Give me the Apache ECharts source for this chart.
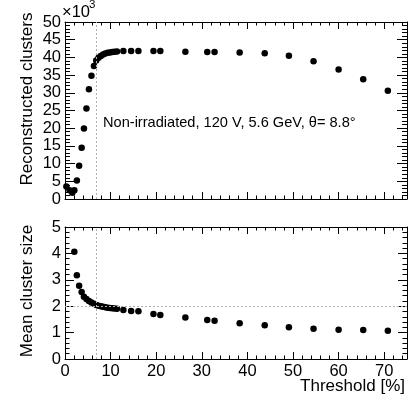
<!DOCTYPE html>
<html>
<head>
<meta charset="utf-8">
<script src="https://cdn.jsdelivr.net/npm/echarts@6/dist/echarts.min.js"></script>
<style>
  html, body { margin: 0; padding: 0; background: #fff; }
  #chart { width: 415px; height: 399px; }
</style>
</head>
<body>
<div id="chart"></div>
<script>
// threshold in %, shared by both pads
const threshold = [0.3, 1.0, 1.6, 2.05, 2.6, 3.1, 3.65, 4.15, 4.7, 5.25, 5.8, 6.35, 6.85,
    7.35, 7.85, 8.35, 8.85, 9.35, 9.85, 10.35, 10.85, 11.4, 12.8, 14.5, 16.1, 19.4, 20.9,
    26.4, 31.2, 32.8, 38.3, 43.8, 49.1, 54.5, 60.0, 65.4, 70.8];
// reconstructed clusters, in units of 10^3
const clusters = [3.5, 2.5, 1.8, 2.5, 5.2, 9.4, 14.5, 19.9, 25.6, 31.0, 34.8, 37.6, 39.1,
    39.9, 40.4, 40.8, 41.1, 41.3, 41.4, 41.5, 41.6, 41.7, 41.8, 41.8, 41.8, 41.8, 41.8,
    41.6, 41.5, 41.5, 41.4, 41.2, 40.5, 38.9, 36.6, 33.8, 30.6];
// mean cluster size (first points are off scale)
const clusterSize = [null, null, null, 4.06, 3.17, 2.77, 2.54, 2.36, 2.27, 2.2, 2.14, 2.09, 2.05,
    2.02, 2.0, 1.98, 1.96, 1.94, 1.93, 1.92, 1.91, 1.9, 1.86, 1.82, 1.81, 1.70, 1.67,
    1.57, 1.48, 1.45, 1.35, 1.28, 1.20, 1.15, 1.11, 1.10, 1.07];
const workingPoint = 6.85;
const refSize = 2;
const annotation = 'Non-irradiated, 120 V, 5.6 GeV, \u03b8= 8.8\u00b0';

const font = 'Liberation Sans, Arial, Helvetica, sans-serif';
let chartDom = document.getElementById('chart');
let myChart = echarts.init(chartDom, null, {renderer: 'canvas'});

function xAx(grid, pos, labels, tickLen) {
    return {
        type: 'value', gridIndex: grid, position: pos, min: 0, max: 75, interval: 10,
        axisLine: {show: true, onZero: false, lineStyle: {color: '#000', width: 1}},
        axisTick: {show: true, inside: true, length: tickLen, lineStyle: {color: '#000'}},
        minorTick: {show: true, splitNumber: 5, length: tickLen / 2, lineStyle: {color: '#000'}},
        splitLine: {show: false},
        axisLabel: {show: labels, color: '#000', fontSize: 16.5, fontFamily: font, margin: 4,
            formatter: v => (v % 10 === 0 ? String(v) : '')}
    }
}

function yAx(grid, pos, labels, max, interval, tickLen) {
    return {
        type: 'value', gridIndex: grid, position: pos, min: 0, max: max, interval: interval,
        axisLine: {show: true, onZero: false, lineStyle: {color: '#000', width: 1}},
        axisTick: {show: true, inside: true, length: tickLen, lineStyle: {color: '#000'}},
        minorTick: {show: true, splitNumber: 5, length: tickLen / 2, lineStyle: {color: '#000'}},
        splitLine: {show: false},
        axisLabel: {show: labels, color: '#000', fontSize: 16.5, fontFamily: font, margin: 4}
    }
}

const dashed = {color: '#b0b0b0', type: [2, 2], width: 1};

let option = {
    animation: false,
    backgroundColor: '#fff',
    grid: [
        {left: 65, width: 342, top: 22, height: 177},
        {left: 65, width: 342, top: 227, height: 132}
    ],
    xAxis: [
        xAx(0, 'bottom', false, 7),
        xAx(0, 'top', false, 7),
        xAx(1, 'bottom', true, 7),
        xAx(1, 'top', false, 7)
    ],
    yAxis: [
        yAx(0, 'left', true, 50, 5, 10),
        yAx(0, 'right', false, 50, 5, 10),
        yAx(1, 'left', true, 5, 1, 9),
        yAx(1, 'right', false, 5, 1, 9)
    ],
    series: [
        {
            type: 'scatter', xAxisIndex: 0, yAxisIndex: 0,
            symbolSize: 6.5, itemStyle: {color: '#000', opacity: 1},
            data: threshold.map((t, i) => [t, clusters[i]]),
            markLine: {silent: true, symbol: 'none', label: {show: false}, lineStyle: dashed,
                data: [{xAxis: workingPoint}]}
        },
        {
            type: 'scatter', xAxisIndex: 2, yAxisIndex: 2,
            symbolSize: 6.5, itemStyle: {color: '#000', opacity: 1},
            data: threshold.map((t, i) => [t, clusterSize[i]]).filter(d => d[1] !== null),
            markLine: {silent: true, symbol: 'none', label: {show: false}, lineStyle: dashed,
                data: [{xAxis: workingPoint}, {yAxis: refSize}]}
        }
    ],
    graphic: [
        {type: 'text', x: 27, y: 99, rotation: Math.PI / 2,
            style: {text: 'Reconstructed clusters', font: '17px ' + font, fill: '#000',
                align: 'center', verticalAlign: 'middle'}},
        {type: 'text', x: 27, y: 291, rotation: Math.PI / 2,
            style: {text: 'Mean cluster size', font: '17px ' + font, fill: '#000',
                align: 'center', verticalAlign: 'middle'}},
        {type: 'text', x: 405, y: 386,
            style: {text: 'Threshold [%]', font: '17px ' + font, fill: '#000',
                align: 'right', verticalAlign: 'middle'}},
        {type: 'text', x: 103, y: 123,
            style: {text: annotation, font: '14.6px ' + font, fill: '#000',
                align: 'left', verticalAlign: 'middle'}},
        {type: 'text', x: 62, y: 12,
            style: {text: '\u00d710', font: '16.5px ' + font, fill: '#000',
                align: 'left', verticalAlign: 'middle'}},
        {type: 'text', x: 89, y: 5,
            style: {text: '3', font: '11.5px ' + font, fill: '#000',
                align: 'left', verticalAlign: 'middle'}}
    ]
};

myChart.setOption(option);
window.addEventListener('resize', () => {
    myChart.resize()
})
</script>
</body>
</html>
